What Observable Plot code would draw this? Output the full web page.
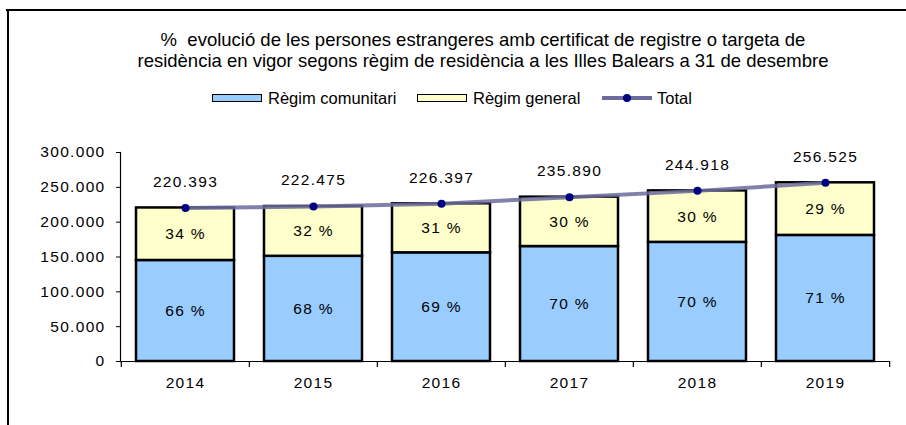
<!DOCTYPE html>
<html>
<head>
<meta charset="utf-8">
<script src="https://cdn.jsdelivr.net/npm/d3@7"></script>
<script src="https://cdn.jsdelivr.net/npm/@observablehq/plot@0.6"></script>
<style>
  html, body { margin: 0; padding: 0; background: #fff; }
  #wrap { position: relative; width: 906px; height: 425px; overflow: hidden; font-family: "Liberation Sans", Arial, sans-serif; }
  .border-top { position: absolute; left: 6px; top: 9px; width: 900px; height: 2px; background: #000; }
  .border-left { position: absolute; left: 7px; top: 9px; width: 2px; height: 416px; background: #000; }
  #title { position: absolute; left: 0; width: 966px; top: 29px; text-align: center; font-size: 18.5px; line-height: 21px; color: #000; }
  #legend { position: absolute; top: 88px; left: 0; width: 906px; height: 20px; font-size: 16.5px; }
  .item { position: absolute; top: 0; height: 20px; display: flex; align-items: center; }
  .sw { width: 48px; height: 6px; border: 1.5px solid #000; margin-right: 6px; }
  .ln { width: 50px; height: 4px; background: #6b6b9e; position: relative; margin-right: 5px; }
  .ln::after { content: ""; position: absolute; left: 21px; top: -2px; width: 8px; height: 8px; border-radius: 50%; background: #000080; }
  #chart { position: absolute; left: 0; top: 0; }
  #chart svg text { letter-spacing: 1.3px; }
</style>
</head>
<body>
<div id="wrap">
  <div class="border-top"></div>
  <div class="border-left"></div>
  <div id="title">%&nbsp; evolució de les persones estrangeres amb certificat de registre o targeta de<br>residència en vigor segons règim de residència a les Illes Balears a 31 de desembre</div>
  <div id="legend"></div>
  <div id="chart"></div>
</div>
<script>
const years = ["2014", "2015", "2016", "2017", "2018", "2019"];
const comunitari = [145000, 151000, 156000, 165000, 171000, 181000];
const general = [75400, 71500, 70400, 70900, 73900, 75500];
const totals = [220393, 222475, 226397, 235890, 244918, 256525];
const pctComunitari = [66, 68, 69, 70, 70, 71];
const pctGeneral = [34, 32, 31, 30, 30, 29];
const series = ["Règim comunitari", "Règim general", "Total"];
const colors = ["#99ccff", "#ffffcc", "#6b6b9e"];
const yTicks = [0, 50000, 100000, 150000, 200000, 250000, 300000];

const fmt = d => d3.format(",")(d).replace(/,/g, ".");

const rows = [];
years.forEach((y, i) => {
  rows.push({year: y, regim: series[0], value: comunitari[i], pct: pctComunitari[i]});
  rows.push({year: y, regim: series[1], value: general[i], pct: pctGeneral[i]});
});
const totalRows = years.map((y, i) => ({year: y, total: totals[i]}));

const W = 906, H = 425;
const mL = 120, mR = 16, mT = 152, mB = 64;
const font = {fontFamily: "Liberation Sans, Arial, sans-serif", fontSize: 15.5, fill: "#000"};

const chart = Plot.plot({
  width: W, height: H,
  marginLeft: mL, marginRight: mR, marginTop: mT, marginBottom: mB,
  style: {fontFamily: "Liberation Sans, Arial, sans-serif", fontSize: "15.5px", color: "#000", background: "transparent", overflow: "visible"},
  x: {domain: years, paddingInner: 0.236, paddingOuter: 0.118, axis: null},
  y: {domain: [0, 300000], axis: null},
  color: {domain: series.slice(0, 2), range: colors.slice(0, 2)},
  marks: [
    Plot.axisY({ticks: yTicks, tickSize: 4, tickPadding: 11, tickFormat: fmt, fontSize: 15.5, stroke: "#000", label: null}),
    Plot.axisX({tickSize: 0, tickPadding: 15, fontSize: 15.5, label: null}),
    Plot.ruleY([0], {stroke: "#000", strokeWidth: 1.2}),
    Plot.frame({anchor: "left", stroke: "#000", strokeWidth: 1.2}),
    Plot.ruleX(years, {x: d => d, dx: -(770 / 6) / 2, y1: 0, y2: -8500, stroke: "#000", strokeWidth: 1.2}),
    Plot.ruleX(years.slice(-1), {x: d => d, dx: (770 / 6) / 2, y1: 0, y2: -8500, stroke: "#000", strokeWidth: 1.2}),
    Plot.barY(rows, Plot.stackY({x: "year", y: "value", fill: "regim", stroke: "#000", strokeWidth: 2.5})),
    Plot.text(rows, Plot.stackY({x: "year", y: "value", text: d => d.pct + " %", ...font})),
    Plot.lineY(totalRows, {x: "year", y: "total", stroke: colors[2], strokeWidth: 4, strokeOpacity: 0.85}),
    Plot.dot(totalRows, {x: "year", y: "total", fill: "#000080", r: 4}),
    Plot.text(totalRows, {x: "year", y: "total", text: d => fmt(d.total), dy: -26, ...font})
  ]
});
document.getElementById("chart").appendChild(chart);

const legend = document.getElementById("legend");
const legendX = [212, 417, 602];
series.forEach((s, i) => {
  const it = document.createElement("div");
  it.className = "item";
  it.style.left = legendX[i] + "px";
  const sw = document.createElement("div");
  if (i < 2) { sw.className = "sw"; sw.style.background = colors[i]; }
  else { sw.className = "ln"; }
  it.appendChild(sw);
  const t = document.createElement("span");
  t.textContent = s;
  it.appendChild(t);
  legend.appendChild(it);
});
</script>
</body>
</html>
